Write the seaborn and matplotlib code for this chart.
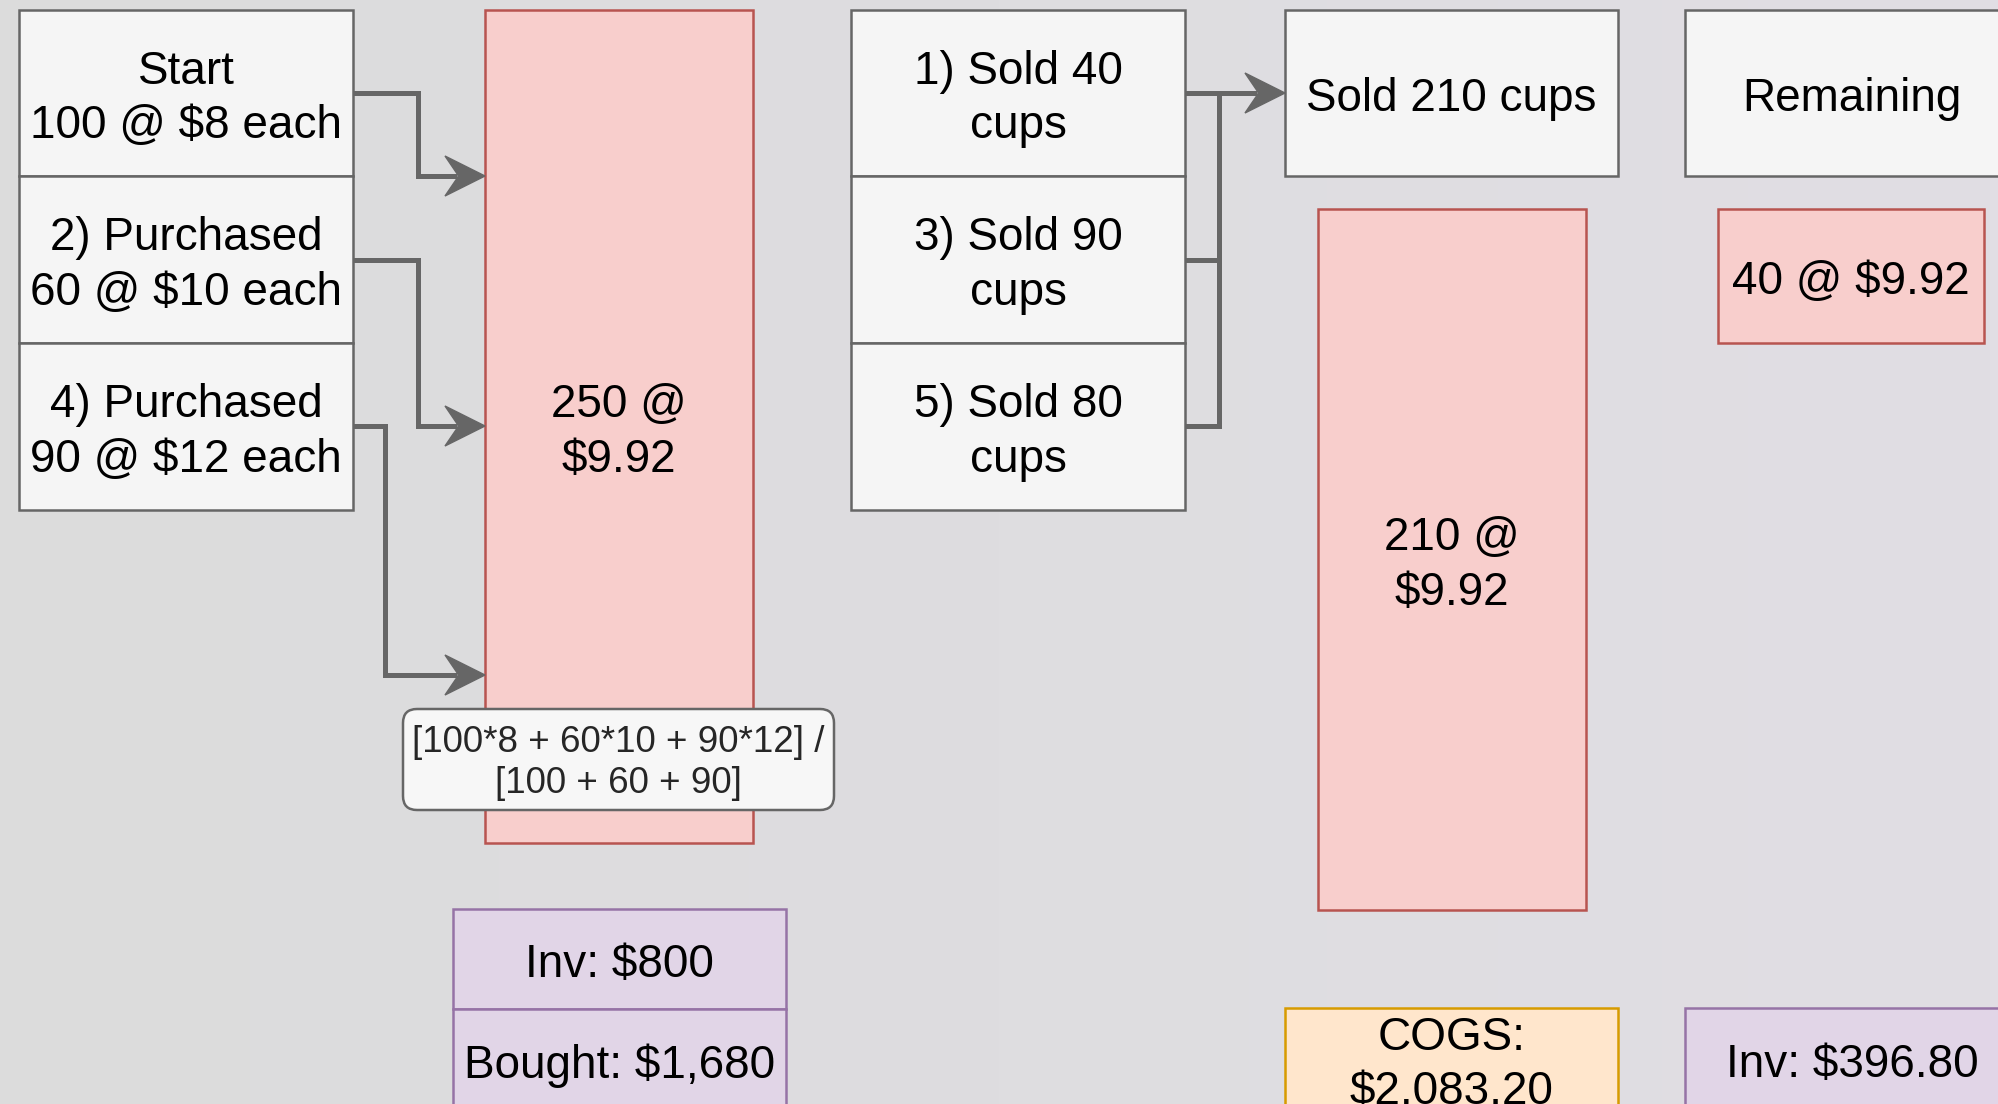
import matplotlib
matplotlib.use("Agg")
import numpy as np
import matplotlib.pyplot as plt
from matplotlib.patches import Rectangle, FancyBboxPatch, Polygon
from matplotlib.colors import LinearSegmentedColormap
import seaborn as sns

# --- data: weighted average inventory example ---
stock_labels = ["Start", "2) Purchased", "4) Purchased"]
stock_units = [100, 60, 90]
stock_costs = [8, 10, 12]
sale_steps = ["1)", "3)", "5)"]
sale_units = [40, 90, 80]

total_units = sum(stock_units)
total_cost = sum(u * c for u, c in zip(stock_units, stock_costs))
avg_cost = round(total_cost / total_units, 2)
sold_units = sum(sale_units)
left_units = total_units - sold_units
begin_inv = stock_units[0] * stock_costs[0]
bought = sum(u * c for u, c in zip(stock_units[1:], stock_costs[1:]))
cogs = sold_units * avg_cost
end_inv = left_units * avg_cost

stock_text = [f"{lab}\n{u} @ ${c} each" for lab, u, c in zip(stock_labels, stock_units, stock_costs)]
sale_text = [f"{s} Sold {u}\ncups" for s, u in zip(sale_steps, sale_units)]
formula_text = ("[" + " + ".join(f"{u}*{c}" for u, c in zip(stock_units, stock_costs)) + "] /\n["
                + " + ".join(str(u) for u in stock_units) + "]")

# --- styles (draw.io palette) ---
WHITE = ("#f5f5f5", "#666666")
PINK = ("#f8cecc", "#b85450")
PURPLE = ("#e1d5e7", "#9673a6")
ORANGE = ("#ffe6cc", "#d79b00")
LINE = "#666666"
FS = 33

sns.set_style("white")
plt.rcParams["font.family"] = ["Liberation Sans", "DejaVu Sans"]

fig = plt.figure(figsize=(19.98, 11.04), dpi=100)
ax = fig.add_axes([0, 0, 1, 1])
ax.set_xlim(0, 1998)
ax.set_ylim(1104, 0)
ax.axis("off")

# background
bg = LinearSegmentedColormap.from_list("bg", ["#dcdcdc", "#dedde0", "#e1dee4"])
ax.imshow(np.linspace(0, 1, 256).reshape(1, -1), cmap=bg, aspect="auto",
          extent=[0, 1998, 1104, 0], zorder=0)


def box(x0, y0, x1, y1, text, style, fs=FS, z=2):
    face, edge = style
    ax.add_patch(Rectangle((x0, y0), x1 - x0, y1 - y0, facecolor=face,
                           edgecolor=edge, linewidth=1.8, zorder=z))
    ax.text((x0 + x1) / 2, (y0 + y1) / 2 + 6, text, ha="center", va="center",
            fontsize=fs, color="black", linespacing=1.3, zorder=z + 1)


def connector(pts, arrow=True):
    xs, ys = zip(*pts)
    if arrow:
        tx, ty = pts[-1]
        xs = list(xs[:-1]) + [tx - 28]
    ax.plot(xs, ys, color=LINE, lw=3.6, solid_joinstyle="miter",
            solid_capstyle="butt", zorder=4)
    if arrow:
        L, W = 40, 40
        head = [(tx, ty), (tx - L, ty - W / 2), (tx - 0.66 * L, ty), (tx - L, ty + W / 2)]
        ax.add_patch(Polygon(head, closed=True, facecolor=LINE, edgecolor=LINE,
                             linewidth=1, zorder=5))


# left column: stock layers
rows = [(10, 176), (176, 343), (343, 510)]
for (y0, y1), t in zip(rows, stock_text):
    box(19, y0, 353, y1, t, WHITE)

# average cost block
box(485, 10, 753, 843, f"{total_units} @\n${avg_cost:.2f}", PINK)
fb = FancyBboxPatch((403, 709), 431, 101, boxstyle="round,pad=0,rounding_size=14",
                    facecolor="#f7f7f7", edgecolor=LINE, linewidth=1.8, zorder=6)
ax.add_patch(fb)
ax.text(618, 763, formula_text, ha="center", va="center", fontsize=26.5,
        linespacing=1.25, zorder=7)

box(453, 909, 786, 1009, f"Inv: ${begin_inv:,}", PURPLE)
box(453, 1009, 786, 1110, f"Bought: ${bought:,}", PURPLE)

connector([(353, 93), (418, 93), (418, 176), (485, 176)])
connector([(353, 260), (418, 260), (418, 426), (485, 426)])
connector([(353, 426), (385, 426), (385, 675), (485, 675)])

# sales column
for (y0, y1), t in zip(rows, sale_text):
    box(851, y0, 1185, y1, t, WHITE)
connector([(1185, 260), (1219, 260), (1219, 93)], arrow=False)
connector([(1185, 426), (1219, 426), (1219, 93)], arrow=False)
connector([(1185, 93), (1285, 93)])

# sold block
box(1285, 10, 1618, 176, f"Sold {sold_units} cups", WHITE)
box(1318, 209, 1586, 910, f"{sold_units} @\n${avg_cost:.2f}", PINK)
box(1285, 1008, 1618, 1110, f"COGS:\n${cogs:,.2f}", ORANGE)

# remaining block
box(1685, 10, 2019, 176, "Remaining", WHITE)
box(1718, 209, 1984, 343, f"{left_units} @ ${avg_cost:.2f}", PINK)
box(1685, 1008, 2019, 1110, f"Inv: ${end_inv:,.2f}", PURPLE)

fig.savefig("out.png", dpi=100)
